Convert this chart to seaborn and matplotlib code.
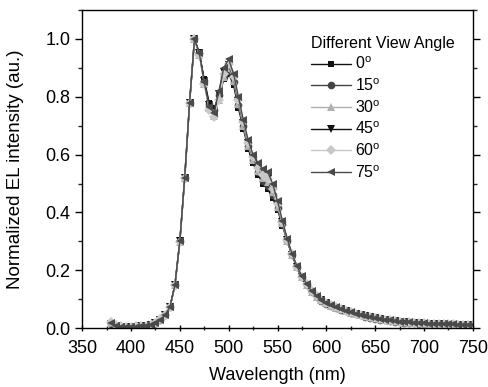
import numpy as np
import pandas as pd
import matplotlib
matplotlib.use("Agg")
import matplotlib.pyplot as plt
import seaborn as sns
from matplotlib.ticker import MultipleLocator

# wavelength grid (nm)
wavelength = list(range(380, 755, 5))

# normalized EL spectra, one list per view angle
el_0 = [0.015, 0.008, 0.005, 0.004, 0.004, 0.005, 0.006, 0.008, 0.010, 0.017,
        0.030, 0.045, 0.075, 0.150, 0.300, 0.520, 0.780, 1.000, 0.950, 0.860,
        0.780, 0.760, 0.800, 0.860, 0.880, 0.840, 0.760, 0.690, 0.620, 0.570,
        0.530, 0.500, 0.480, 0.450, 0.410, 0.355, 0.300, 0.250, 0.210, 0.175,
        0.150, 0.125, 0.108, 0.095, 0.085, 0.077, 0.070, 0.064, 0.058, 0.053,
        0.048, 0.044, 0.040, 0.036, 0.033, 0.030, 0.027, 0.025, 0.023, 0.021,
        0.019, 0.018, 0.017, 0.016, 0.015, 0.014, 0.013, 0.012, 0.012, 0.011,
        0.011, 0.010, 0.010, 0.010, 0.009]
el_15 = [0.016, 0.008, 0.005, 0.004, 0.004, 0.005, 0.006, 0.008, 0.010, 0.017,
         0.030, 0.045, 0.074, 0.150, 0.300, 0.520, 0.780, 1.000, 0.950, 0.855,
         0.775, 0.755, 0.805, 0.870, 0.890, 0.850, 0.770, 0.700, 0.630, 0.580,
         0.540, 0.510, 0.490, 0.460, 0.415, 0.360, 0.302, 0.252, 0.211, 0.176,
         0.150, 0.125, 0.108, 0.095, 0.085, 0.077, 0.070, 0.064, 0.058, 0.053,
         0.048, 0.044, 0.040, 0.036, 0.033, 0.030, 0.027, 0.025, 0.023, 0.021,
         0.019, 0.018, 0.017, 0.016, 0.015, 0.014, 0.013, 0.012, 0.012, 0.011,
         0.011, 0.010, 0.010, 0.010, 0.009]
el_30 = [0.018, 0.009, 0.005, 0.004, 0.004, 0.005, 0.006, 0.008, 0.010, 0.017,
         0.030, 0.045, 0.073, 0.148, 0.298, 0.518, 0.778, 1.000, 0.945, 0.845,
         0.760, 0.735, 0.790, 0.870, 0.900, 0.855, 0.775, 0.700, 0.630, 0.580,
         0.545, 0.520, 0.505, 0.470, 0.420, 0.362, 0.303, 0.253, 0.212, 0.177,
         0.151, 0.126, 0.109, 0.096, 0.086, 0.078, 0.071, 0.065, 0.059, 0.054,
         0.049, 0.045, 0.041, 0.037, 0.034, 0.031, 0.028, 0.026, 0.024, 0.022,
         0.020, 0.019, 0.018, 0.017, 0.016, 0.015, 0.014, 0.013, 0.013, 0.012,
         0.012, 0.011, 0.011, 0.011, 0.010]
el_45 = [0.016, 0.008, 0.005, 0.004, 0.004, 0.005, 0.006, 0.008, 0.010, 0.017,
         0.030, 0.045, 0.074, 0.150, 0.300, 0.520, 0.780, 1.000, 0.950, 0.855,
         0.770, 0.750, 0.810, 0.885, 0.910, 0.865, 0.785, 0.710, 0.640, 0.590,
         0.555, 0.530, 0.515, 0.480, 0.428, 0.366, 0.305, 0.254, 0.212, 0.177,
         0.151, 0.126, 0.109, 0.096, 0.086, 0.078, 0.071, 0.065, 0.059, 0.054,
         0.049, 0.045, 0.041, 0.037, 0.034, 0.031, 0.028, 0.026, 0.024, 0.022,
         0.020, 0.019, 0.018, 0.017, 0.016, 0.015, 0.014, 0.013, 0.013, 0.012,
         0.012, 0.011, 0.011, 0.011, 0.010]
el_60 = [0.020, 0.010, 0.006, 0.005, 0.005, 0.006, 0.007, 0.009, 0.011, 0.018,
         0.031, 0.046, 0.073, 0.148, 0.298, 0.518, 0.778, 1.000, 0.945, 0.845,
         0.755, 0.730, 0.790, 0.880, 0.915, 0.870, 0.790, 0.712, 0.642, 0.592,
         0.555, 0.530, 0.515, 0.480, 0.428, 0.367, 0.306, 0.255, 0.213, 0.178,
         0.152, 0.127, 0.110, 0.097, 0.087, 0.079, 0.072, 0.066, 0.060, 0.055,
         0.050, 0.046, 0.042, 0.038, 0.035, 0.032, 0.029, 0.027, 0.025, 0.023,
         0.021, 0.020, 0.019, 0.018, 0.017, 0.016, 0.015, 0.014, 0.014, 0.013,
         0.013, 0.012, 0.012, 0.012, 0.011]
el_75 = [0.017, 0.009, 0.005, 0.004, 0.004, 0.005, 0.006, 0.008, 0.010, 0.017,
         0.030, 0.045, 0.074, 0.150, 0.300, 0.520, 0.780, 1.000, 0.950, 0.850,
         0.765, 0.745, 0.820, 0.900, 0.930, 0.880, 0.800, 0.720, 0.650, 0.600,
         0.570, 0.550, 0.540, 0.500, 0.440, 0.372, 0.308, 0.256, 0.214, 0.179,
         0.152, 0.127, 0.110, 0.097, 0.087, 0.079, 0.072, 0.066, 0.060, 0.055,
         0.050, 0.046, 0.042, 0.038, 0.035, 0.032, 0.029, 0.027, 0.025, 0.023,
         0.021, 0.020, 0.019, 0.018, 0.017, 0.016, 0.015, 0.014, 0.014, 0.013,
         0.013, 0.012, 0.012, 0.012, 0.011]

angles = ["0", "15", "30", "45", "60", "75"]
spectra = [el_0, el_15, el_30, el_45, el_60, el_75]
colors = ["#111111", "#444444", "#b0b0b0", "#111111", "#c8c8c8", "#4a4a4a"]
markers = ["s", "o", "^", "v", "D", "<"]
msizes = [5, 5.5, 6, 6, 5, 6]

sns.set_theme(style="ticks")
plt.rcParams["font.family"] = ["Liberation Sans", "DejaVu Sans"]
plt.rcParams["text.color"] = "black"

fig = plt.figure(figsize=(4.89, 3.87), dpi=100)
ax = fig.add_axes([0.168, 0.152, 0.799, 0.822])

for ang, vals, c, m, ms in zip(angles, spectra, colors, markers, msizes):
    df = pd.DataFrame({"wl": wavelength, "el": vals})
    sns.lineplot(data=df, x="wl", y="el", ax=ax, color=c, marker=m,
                 markersize=ms, markeredgewidth=0, linewidth=1.0,
                 label=ang + r"$^{\mathregular{o}}$")

ax.set_xlim(350, 750)
ax.set_ylim(0, 1.1)
ax.xaxis.set_major_locator(MultipleLocator(50))
ax.xaxis.set_minor_locator(MultipleLocator(25))
ax.yaxis.set_major_locator(MultipleLocator(0.2))
ax.yaxis.set_minor_locator(MultipleLocator(0.1))
ax.yaxis.set_major_formatter(matplotlib.ticker.FormatStrFormatter("%.1f"))

ax.tick_params(axis="both", which="major", labelsize=13, length=5,
               width=1, color="black", labelcolor="black")
ax.tick_params(axis="x", which="both", direction="inout")
ax.tick_params(axis="x", which="major", pad=6)
ax.tick_params(axis="y", which="both", direction="out")
ax.tick_params(which="minor", length=3, width=1)
ax.tick_params(axis="y", which="both", right=True)

for s in ax.spines.values():
    s.set_color("black")
    s.set_linewidth(1.0)

ax.set_xlabel("Wavelength (nm)", fontsize=13, color="black")
ax.set_ylabel("Normalized EL intensity (au.)", fontsize=13.5, color="black")
ax.xaxis.set_label_coords(0.5, -0.122)
ax.yaxis.set_label_coords(-0.148, 0.5)

leg = ax.legend(title="Different View Angle", loc="upper left",
                bbox_to_anchor=(0.585, 0.92), frameon=False, fontsize=11.5,
                title_fontsize=11.5, handlelength=2.5, handletextpad=0.3,
                labelspacing=0.32, borderaxespad=0, borderpad=0)
leg._legend_box.align = "left"
for t in leg.get_texts():
    t.set_color("black")
leg.get_title().set_color("black")

fig.savefig("out.png", dpi=100)
